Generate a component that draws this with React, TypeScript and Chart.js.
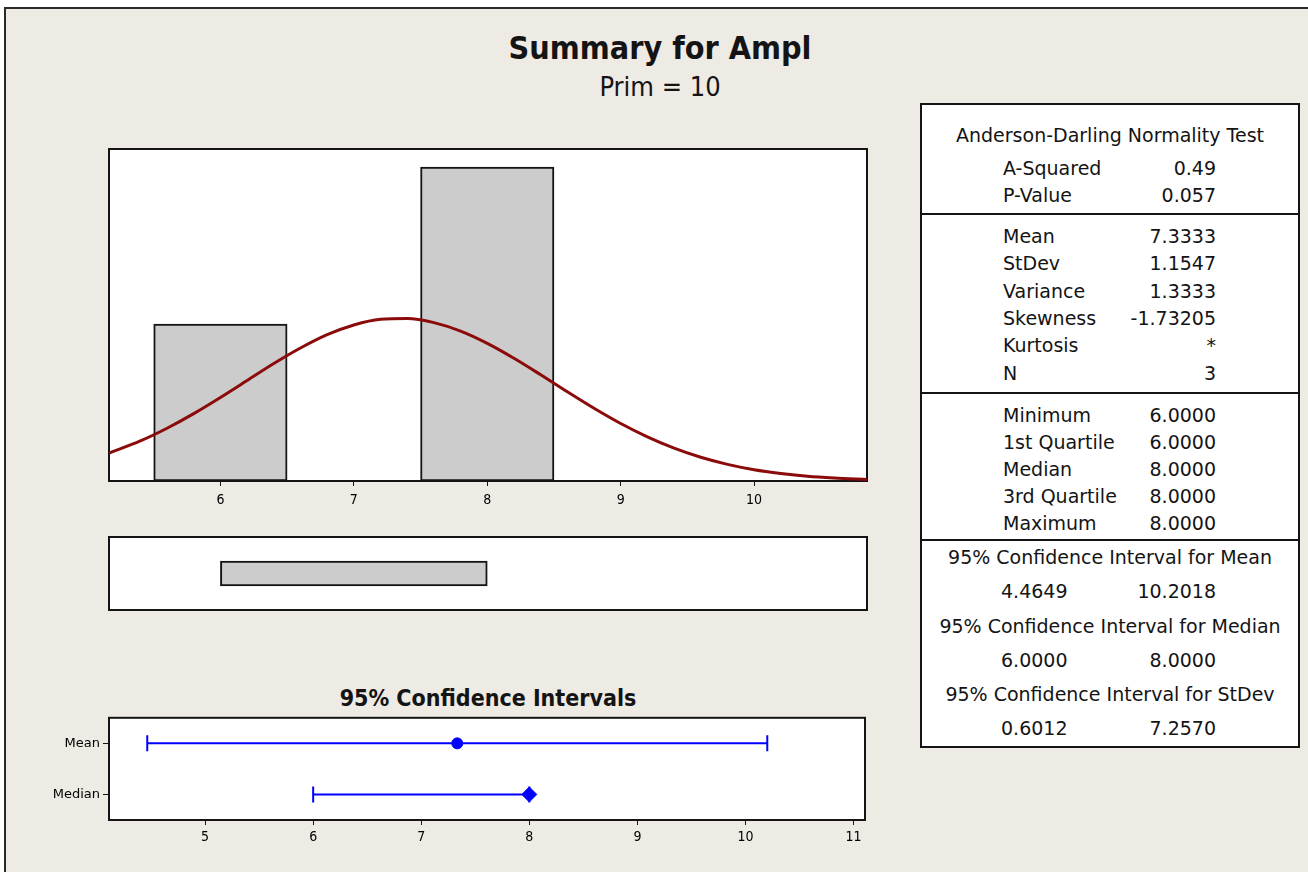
import React, { useEffect, useRef } from 'react';
import { Chart, registerables } from 'chart.js';
Chart.register(...registerables);

const FONT = '"DejaVu Sans Condensed", "DejaVu Sans", sans-serif';
const FONT_WIDE = '"DejaVu Sans", sans-serif';
const INK = '#141414';
const BLUE = '#0000FF';
const CURVE_RED = '#8B0A0A';
const BAR_GRAY = '#CCCCCC';
const PANEL_BG = '#EEEAE4';

// ---------- data ----------
const TITLE = 'Summary for Ampl';
const SUBTITLE = 'Prim = 10';

const BIN_CENTERS = [6, 7, 8];
const BIN_COUNTS = [1, 0, 2];
const HIST_TICKS = [6, 7, 8, 9, 10];
const CURVE_X = [5.165, 5.4, 5.6, 5.8, 6.0, 6.2, 6.4, 6.6, 6.8, 7.0, 7.2, 7.4, 7.6, 7.8, 8.0, 8.2, 8.4, 8.6, 8.8, 9.0, 9.2, 9.4, 9.6, 9.8, 10.0, 10.2, 10.4, 10.6, 10.846];
const CURVE_Y = [0.178, 0.255, 0.336, 0.429, 0.532, 0.64, 0.748, 0.847, 0.932, 0.994, 1.03, 1.035, 1.009, 0.955, 0.877, 0.782, 0.677, 0.568, 0.463, 0.366, 0.281, 0.209, 0.151, 0.106, 0.072, 0.048, 0.03, 0.019, 0.01];

const BOX_LABEL = ['Ampl'];
const BOX_Q1 = 6;
const BOX_Q3 = 8;

const CI_TITLE = '95% Confidence Intervals';
const CI_LABELS = ['Mean', 'Median'];
const CI_LOW = [4.4649, 6.0];
const CI_HIGH = [10.2018, 8.0];
const CI_EST = [7.3333, 8.0];
const CI_TICKS = [5, 6, 7, 8, 9, 10, 11];

const AD_TITLE = 'Anderson-Darling Normality Test';
const AD_LABELS = ['A-Squared', 'P-Value'];
const AD_VALUES = ['0.49', '0.057'];
const DESC_LABELS = ['Mean', 'StDev', 'Variance', 'Skewness', 'Kurtosis', 'N'];
const DESC_VALUES = ['7.3333', '1.1547', '1.3333', '-1.73205', '*', '3'];
const QUART_LABELS = ['Minimum', '1st Quartile', 'Median', '3rd Quartile', 'Maximum'];
const QUART_VALUES = ['6.0000', '6.0000', '8.0000', '8.0000', '8.0000'];
const CI_TABLE_TITLES = ['95% Confidence Interval for Mean', '95% Confidence Interval for Median', '95% Confidence Interval for StDev'];
const CI_TABLE_LOW = ['4.4649', '6.0000', '0.6012'];
const CI_TABLE_HIGH = ['10.2018', '8.0000', '7.2570'];

// ---------- helpers ----------
const framePlugin = {
  id: 'frame',
  beforeDraw(chart: any) {
    const { ctx, chartArea } = chart;
    const { left, top, right, bottom } = chartArea;
    ctx.save();
    ctx.fillStyle = '#FFFFFF';
    ctx.fillRect(left, top, right - left, bottom - top);
    ctx.restore();
  },
  beforeDatasetsDraw(chart: any) {
    const { ctx, chartArea } = chart;
    const { left, top, right, bottom } = chartArea;
    ctx.save();
    ctx.strokeStyle = INK;
    ctx.lineWidth = 2;
    ctx.strokeRect(left, top, right - left, bottom - top);
    ctx.restore();
  },
};

const fixedTicks = (vals: number[]) => (axis: any) => {
  axis.ticks = vals.map((v) => ({ value: v }));
};

function useChart(makeConfig: () => any) {
  const ref = useRef<HTMLCanvasElement | null>(null);
  useEffect(() => {
    if (!ref.current) return;
    const chart = new Chart(ref.current, makeConfig());
    return () => chart.destroy();
  }, []);
  return ref;
}

const baseOptions = {
  responsive: false,
  animation: false,
  devicePixelRatio: 1,
  plugins: { legend: { display: false }, tooltip: { enabled: false } },
};

function Histogram() {
  const ref = useChart(() => ({
    type: 'bar',
    data: {
      datasets: [
        {
          type: 'line',
          data: CURVE_X.map((x, i) => ({ x, y: CURVE_Y[i] })),
          borderColor: CURVE_RED,
          borderWidth: 3,
          pointRadius: 0,
          cubicInterpolationMode: 'monotone',
          order: 0,
        },
        {
          type: 'bar',
          data: BIN_CENTERS.map((x, i) => ({ x, y: BIN_COUNTS[i] })),
          backgroundColor: BAR_GRAY,
          borderColor: INK,
          borderWidth: 2,
          borderSkipped: false,
          barPercentage: 1,
          categoryPercentage: 1,
          order: 1,
        },
      ],
    },
    options: {
      ...baseOptions,
      layout: { padding: { left: 9, top: 9, right: 13, bottom: 0 } },
      scales: {
        x: {
          type: 'linear',
          min: 5.165,
          max: 10.846,
          offset: false,
          grid: { display: true, drawOnChartArea: false, offset: false, tickLength: 5, color: INK, lineWidth: 1 },
          border: { display: false },
          ticks: { font: { family: FONT, size: 14 }, color: '#000', padding: 6, callback: (v: any) => String(v) },
          afterBuildTicks: fixedTicks(HIST_TICKS),
          afterFit: (s: any) => { s.height = 39; },
        },
        y: { display: false, min: 0, max: 2.115 },
      },
    },
    plugins: [framePlugin],
  }));
  return <canvas ref={ref} width={780} height={380} style={{ position: 'absolute', left: 100, top: 140 }} />;
}

function BoxPlot() {
  const ref = useChart(() => ({
    type: 'bar',
    data: {
      labels: BOX_LABEL,
      datasets: [
        {
          data: [[BOX_Q1, BOX_Q3]],
          backgroundColor: BAR_GRAY,
          borderColor: INK,
          borderWidth: 2,
          borderSkipped: false,
          barThickness: 25,
        },
      ],
    },
    options: {
      ...baseOptions,
      indexAxis: 'y',
      layout: { padding: 2 },
      scales: {
        x: { type: 'linear', display: false, min: 5.165, max: 10.846 },
        y: { display: false },
      },
    },
    plugins: [framePlugin],
  }));
  return <canvas ref={ref} width={762} height={77} style={{ position: 'absolute', left: 107, top: 535 }} />;
}

function CIPlot() {
  const ref = useChart(() => ({
    type: 'line',
    data: {
      datasets: [
        ...CI_LABELS.map((lab, i) => ({
          data: [
            { x: CI_LOW[i], y: lab },
            { x: CI_HIGH[i], y: lab },
          ],
          borderColor: BLUE,
          borderWidth: 2,
          pointStyle: 'line',
          pointRotation: 90,
          pointRadius: 8,
          pointBorderColor: BLUE,
          pointBorderWidth: 2,
        })),
        {
          data: CI_LABELS.map((lab, i) => ({ x: CI_EST[i], y: lab })),
          showLine: false,
          pointStyle: ['circle', 'rectRot'],
          pointRadius: [5.5, 7.5],
          pointBackgroundColor: BLUE,
          pointBorderColor: BLUE,
          pointBorderWidth: 1,
        },
      ],
    },
    options: {
      ...baseOptions,
      layout: { padding: { left: 0, top: 10, right: 15, bottom: 0 } },
      scales: {
        x: {
          type: 'linear',
          min: 4.111,
          max: 11.106,
          grid: { display: true, drawOnChartArea: false, tickLength: 5, color: INK },
          border: { display: false },
          ticks: { font: { family: FONT, size: 14 }, color: '#000', padding: 4, callback: (v: any) => String(v) },
          afterBuildTicks: fixedTicks(CI_TICKS),
          afterFit: (s: any) => { s.height = 47; },
        },
        y: {
          type: 'category',
          labels: CI_LABELS,
          offset: true,
          grid: { display: true, drawOnChartArea: false, offset: false, tickLength: 6, color: INK },
          border: { display: false },
          ticks: { font: { family: FONT_WIDE, size: 13 }, color: '#000', padding: 3 },
          afterFit: (s: any) => { s.width = 79; },
        },
      },
    },
    plugins: [framePlugin],
  }));
  return <canvas ref={ref} width={850} height={160} style={{ position: 'absolute', left: 30, top: 707 }} />;
}

type TProps = { x: number; y: number; align?: 'left' | 'center' | 'right'; size?: number; bold?: boolean; family?: string; children: React.ReactNode };
const T = ({ x, y, align = 'center', size = 19, bold = false, family = FONT_WIDE, children }: TProps) => (
  <div
    style={{
      position: 'absolute',
      left: x,
      top: y,
      transform: `translate(${align === 'center' ? '-50%' : align === 'right' ? '-100%' : '0'}, -50%)`,
      whiteSpace: 'nowrap',
      font: `${bold ? 'bold ' : ''}${size}px ${family}`,
      lineHeight: 1,
      color: INK,
    }}
  >
    {children}
  </div>
);

function StatsTable() {
  const LX = 1003;
  const RX = 1216;
  const CX = 1110;
  const line = (y: number) => (
    <div key={'l' + y} style={{ position: 'absolute', left: 921, top: y - 1, width: 379, height: 2, background: INK }} />
  );
  return (
    <>
      <div style={{ position: 'absolute', left: 920, top: 103, width: 376, height: 641, border: `2px solid ${INK}`, background: '#FFFFFF' }} />
      {line(214)}
      {line(393)}
      {line(540)}
      <T x={CX} y={135}>{AD_TITLE}</T>
      {AD_LABELS.map((l, i) => (
        <React.Fragment key={l}>
          <T x={LX} y={167.5 + i * 27.3} align="left">{l}</T>
          <T x={RX} y={167.5 + i * 27.3} align="right">{AD_VALUES[i]}</T>
        </React.Fragment>
      ))}
      {DESC_LABELS.map((l, i) => (
        <React.Fragment key={l}>
          <T x={LX} y={236 + i * 27.3} align="left">{l}</T>
          <T x={RX} y={236 + i * 27.3} align="right">{DESC_VALUES[i]}</T>
        </React.Fragment>
      ))}
      {QUART_LABELS.map((l, i) => (
        <React.Fragment key={l}>
          <T x={LX} y={415 + i * 27.1} align="left">{l}</T>
          <T x={RX} y={415 + i * 27.1} align="right">{QUART_VALUES[i]}</T>
        </React.Fragment>
      ))}
      {CI_TABLE_TITLES.map((t, i) => (
        <React.Fragment key={t}>
          <T x={CX} y={557 + i * 68.5}>{t}</T>
          <T x={1001} y={591 + i * 68.5} align="left">{CI_TABLE_LOW[i]}</T>
          <T x={RX} y={591 + i * 68.5} align="right">{CI_TABLE_HIGH[i]}</T>
        </React.Fragment>
      ))}
    </>
  );
}

export default function App() {
  return (
    <div style={{ position: 'absolute', left: 0, top: 0, width: 1308, height: 872, background: '#FFFFFF', overflow: 'hidden' }}>
      <div style={{ position: 'absolute', left: 4, top: 7, width: 1330, height: 900, background: PANEL_BG, border: `2px solid #2a2a2a` }} />
      <T x={660} y={48} size={32} bold family={FONT}>{TITLE}</T>
      <T x={660} y={86} size={27} family={FONT}>{SUBTITLE}</T>
      <Histogram />
      <BoxPlot />
      <T x={488} y={698} size={23} bold family={FONT}>{CI_TITLE}</T>
      <CIPlot />
      <StatsTable />
    </div>
  );
}
